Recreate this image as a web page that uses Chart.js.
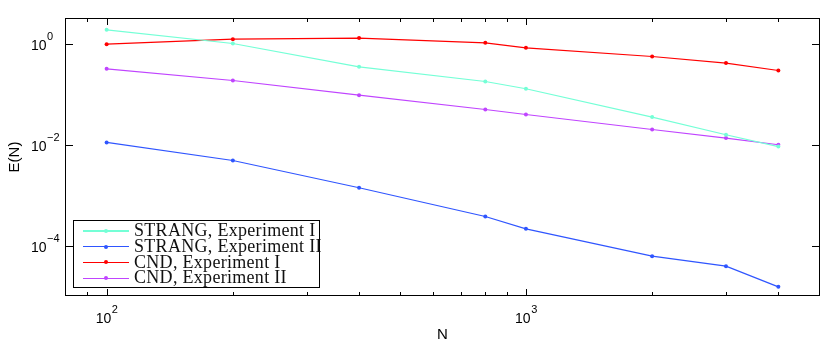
<!DOCTYPE html>
<html>
<head>
<meta charset="utf-8">
<script src="https://cdn.jsdelivr.net/npm/chart.js@4.4.1/dist/chart.umd.min.js"></script>
<style>
  html, body { margin: 0; padding: 0; background: #fff; }
  #wrap { position: relative; width: 830px; height: 345px; }
  #legend {
    position: absolute; box-sizing: border-box; width: 247px; height: 68px;
    background: #fff; border: 1px solid #000; padding: 2px 0 0 9px;
    font-family: "Liberation Serif", serif; font-size: 18px; letter-spacing: 0.3px; line-height: 15.8px;
    color: #111; overflow: visible;
  }
  .row { display: flex; align-items: center; white-space: nowrap; height: 15.8px; }
  .swatch { position: relative; width: 46px; height: 10px; margin-right: 5px; flex: none; }
  .swatch .ln { position: absolute; left: 0; right: 0; top: 4.5px; height: 1.2px; }
  .swatch .dot { position: absolute; left: 21px; top: 3px; width: 4px; height: 4px; border-radius: 50%; }
</style>
</head>
<body>
<div id="wrap">
  <canvas id="errChart" width="830" height="345"></canvas>
  <div id="legend"></div>
</div>
<script>
// данные
const nValues = [100, 200, 400, 800, 1000, 2000, 3000, 4000];
const strangExp1 = [1.87, 1.0, 0.346, 0.177, 0.127, 0.0349, 0.0156, 0.0091];
const strangExp2 = [0.011, 0.00482, 0.00139, 0.000375, 0.000214, 0.0000616, 0.000039, 0.0000152];
const cndExp1 = [0.97, 1.22, 1.28, 1.03, 0.82, 0.553, 0.409, 0.292];
const cndExp2 = [0.315, 0.185, 0.095, 0.0493, 0.0393, 0.0198, 0.0134, 0.0099];
const seriesNames = ['STRANG, Experiment I', 'STRANG, Experiment II', 'CND, Experiment I', 'CND, Experiment II'];
const xLabelTicks = [100, 1000];
const xMinorTicks = [90, 200, 300, 400, 500, 600, 700, 800, 900, 2000, 3000, 4000, 5000];
const yLabelTicks = [1e-4, 1e-2, 1];

const seriesValues = [strangExp1, strangExp2, cndExp1, cndExp2];
const seriesColors = ['#74ffd6', '#2f55ff', '#ff0000', '#c044ff'];

const sansFamily = '"Liberation Sans", Arial, sans-serif';

// подпись вида 10^n: основание и поднятый показатель
function drawPower(ctx, v, x, baseline, align) {
    const exp = String(Math.round(Math.log10(v))).replace('-', '\u2212');
    ctx.font = '14px ' + sansFamily;
    const w1 = ctx.measureText('10').width;
    ctx.font = '11px ' + sansFamily;
    const w2 = ctx.measureText(exp).width;
    const left = align === 'center' ? x - (w1 + w2) / 2 : x;
    ctx.textAlign = 'left';
    ctx.textBaseline = 'alphabetic';
    ctx.font = '14px ' + sansFamily;
    ctx.fillText('10', left, baseline);
    ctx.font = '11px ' + sansFamily;
    ctx.fillText(exp, left + w1 + 0.5, baseline - 9.5);
}

// рамка, засечки внутри области графика и подписи делений
const boxTicks = {
    id: 'boxTicks',
    afterDraw(chart) {
        const { ctx, chartArea: a, scales: { x, y } } = chart;
        ctx.save();
        ctx.strokeStyle = '#000';
        ctx.lineWidth = 1;
        ctx.beginPath();
        xMinorTicks.concat(xLabelTicks).forEach(v => {
            const px = Math.round(x.getPixelForValue(v)) + 0.5;
            const len = xLabelTicks.includes(v) ? 7 : 4;
            ctx.moveTo(px, a.bottom); ctx.lineTo(px, a.bottom - len);
            ctx.moveTo(px, a.top); ctx.lineTo(px, a.top + len);
        });
        yLabelTicks.forEach(v => {
            const py = Math.round(y.getPixelForValue(v)) + 0.5;
            ctx.moveTo(a.left, py); ctx.lineTo(a.left + 7, py);
            ctx.moveTo(a.right, py); ctx.lineTo(a.right - 7, py);
        });
        ctx.stroke();
        ctx.strokeRect(Math.round(a.left) - 0.5, Math.round(a.top) + 0.5,
            Math.round(a.right - a.left) + 1, Math.round(a.bottom - a.top) - 1);

        ctx.fillStyle = '#000';
        xLabelTicks.forEach(v => drawPower(ctx, v, x.getPixelForValue(v), a.bottom + 26.5, 'center'));
        yLabelTicks.forEach(v => drawPower(ctx, v, y.left, y.getPixelForValue(v) + 6.3, 'left'));
        ctx.restore();
    }
};

const datasets = seriesNames.map((name, i) => ({
    label: name,
    data: nValues.map((n, k) => ({ x: n, y: seriesValues[i][k] })),
    borderColor: seriesColors[i],
    backgroundColor: seriesColors[i],
    pointBackgroundColor: seriesColors[i],
    borderWidth: 1.2,
    pointRadius: 2,
    pointBorderWidth: 0,
    tension: 0,
    fill: false
}));

const chart = new Chart(document.getElementById('errChart'), {
    type: 'line',
    data: { datasets: datasets },
    options: {
        responsive: false,
        animation: false,
        layout: { padding: { top: 18, right: 11, left: 31, bottom: 0 } },
        plugins: { legend: { display: false }, tooltip: { enabled: false } },
        scales: {
            x: {
                type: 'logarithmic', min: 80, max: 5000,
                afterBuildTicks: s => { s.ticks = xLabelTicks.map(v => ({ value: v })); },
                afterFit: s => { s.height = 49; },
                grid: { display: false },
                border: { display: false },
                ticks: { display: false },
                title: { display: true, text: 'N', color: '#000', font: { family: sansFamily, size: 15 }, padding: { top: 0, bottom: 1 } }
            },
            y: {
                type: 'logarithmic', min: 1e-5, max: 3.2,
                afterBuildTicks: s => { s.ticks = yLabelTicks.map(v => ({ value: v })); },
                afterFit: s => { s.width = 35; },
                grid: { display: false },
                border: { display: false },
                ticks: { display: false },
                title: { display: true, text: 'E(N)', color: '#000', font: { family: sansFamily, size: 15 }, padding: { top: -25, bottom: 0 } }
            }
        }
    },
    plugins: [boxTicks]
});

// легенда в левом нижнем углу
const legend = document.getElementById('legend');
seriesNames.forEach((name, i) => {
    const row = document.createElement('div');
    row.className = 'row';
    row.innerHTML = '<span class="swatch"><span class="ln" style="background:' + seriesColors[i] + '"></span>' +
        '<span class="dot" style="background:' + seriesColors[i] + '"></span></span><span>' + name + '</span>';
    legend.appendChild(row);
});
const area = chart.chartArea;
legend.style.left = (area.left + 7) + 'px';
legend.style.top = (area.bottom - 8 - 68) + 'px';
</script>
</body>
</html>
